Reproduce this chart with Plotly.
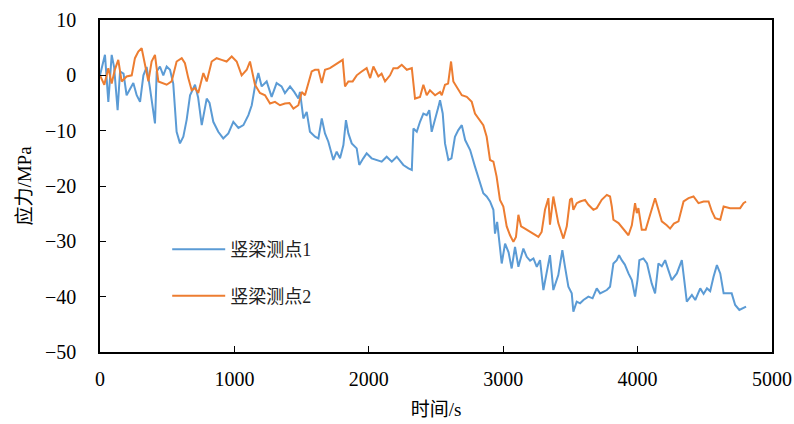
import plotly.graph_objects as go

# ---- data ----
time1 = [0, 37, 62, 87, 105, 131, 149, 175, 198, 225, 248, 273, 298, 323, 347, 370, 390, 409, 422, 446,
         471, 496, 521, 545, 570, 595, 620, 645, 670, 707, 730, 757, 794, 815, 843, 880, 917, 955, 992, 1030,
         1067, 1104, 1129, 1153, 1178, 1203, 1240, 1277, 1314, 1351, 1376, 1414, 1445, 1476, 1488, 1513, 1538, 1562, 1600, 1625,
         1650, 1674, 1699, 1736, 1761, 1786, 1811, 1830, 1848, 1873, 1910, 1929, 1959, 1984, 2021, 2059, 2096, 2133, 2171, 2208,
         2235, 2257, 2295, 2320, 2332, 2357, 2381, 2406, 2431, 2450, 2468, 2493, 2518, 2530, 2550, 2567, 2592, 2615, 2641, 2666,
         2692, 2717, 2754, 2790, 2827, 2852, 2877, 2902, 2927, 2939, 2955, 2976, 2989, 3014, 3040, 3063, 3088, 3113, 3150, 3175,
         3200, 3225, 3250, 3274, 3299, 3348, 3373, 3410, 3440, 3460, 3485, 3510, 3522, 3547, 3572, 3597, 3634, 3665, 3696, 3721,
         3771, 3795, 3820, 3845, 3862, 3882, 3905, 3932, 3957, 3981, 3999, 4013, 4043, 4070, 4105, 4130, 4155, 4180, 4205, 4229,
         4254, 4292, 4329, 4347, 4366, 4404, 4429, 4466, 4491, 4516, 4540, 4565, 4590, 4615, 4640, 4700, 4726, 4757, 4788, 4807]
stress1 = [0, 3.7, -4.8, 3.7, 1.5, -6.3, 0.7, 0.3, -3.6, -2.5, -1.4, -3.6, -4.8, 0, 1.5, -2, -6, -8.7, 0.7, 1.6,
           0, 1.6, 1, -1.5, -10.2, -12.3, -11.1, -8, -3.6, -1.7, -4, -9, -4.2, -5, -8.4, -10.2, -11.4, -10.5, -8.4, -9.5,
           -9, -7.2, -5.4, -2, 0.4, -2, -1.1, -3.9, -1.4, -2, -3.2, -2, -3, -4.2, -3, -7.8, -6.6, -10.2, -11.1, -11.4,
           -7.8, -10.5, -12, -15.3, -13.8, -15, -12.6, -8.1, -10.5, -12.3, -13.2, -16.2, -15, -14.1, -15, -15.3, -15.6, -14.7, -15.6, -14.7,
           -15.6, -16.2, -16.8, -17.1, -9.6, -10.2, -8.4, -6.9, -7.2, -6.3, -10.2, -8.1, -5.7, -4.5, -6.9, -12.3, -15.3, -15, -11.1, -9.9,
           -9, -11.7, -13.5, -16.5, -19.5, -21.3, -21.9, -22.8, -24.3, -28.6, -26.5, -31, -34, -30.4, -32, -34.9, -31, -34.6, -31.3, -32.8,
           -33.5, -33.1, -34.6, -33.4, -38.8, -32.5, -38.8, -36.1, -31.6, -34.6, -38.2, -39.4, -42.7, -40.9, -41.2, -40.6, -40, -40.3, -38.5, -39.4,
           -38.8, -38.2, -34, -33.4, -32.5, -33.4, -34.2, -35.8, -37, -40, -37, -33.4, -33.1, -34, -37.6, -39.4, -34, -34.5, -33.4, -35.2,
           -37, -35.8, -33.4, -37, -40.9, -39.7, -40.6, -38.5, -39.5, -38.5, -39, -36.4, -34.3, -35.8, -39.4, -39.4, -41.5, -42.4, -42.1, -41.8]

time2 = [0, 32, 62, 87, 110, 136, 161, 198, 236, 260, 285, 310, 335, 360, 384, 409, 434, 459, 496, 533,
         570, 608, 632, 657, 682, 707, 731, 769, 794, 831, 868, 905, 942, 980, 1017, 1054, 1092, 1116, 1153, 1190,
         1228, 1265, 1302, 1339, 1376, 1410, 1439, 1476, 1501, 1525, 1550, 1575, 1600, 1625, 1650, 1674, 1711, 1749, 1773, 1806,
         1823, 1848, 1880, 1910, 1947, 1984, 2010, 2034, 2071, 2095, 2121, 2158, 2183, 2215, 2245, 2283, 2320, 2344, 2381, 2406,
         2431, 2455, 2493, 2530, 2543, 2567, 2590, 2612, 2629, 2654, 2692, 2729, 2766, 2790, 2827, 2852, 2877, 2902, 2927, 2951,
         2976, 3001, 3026, 3051, 3076, 3095, 3113, 3133, 3162, 3199, 3237, 3262, 3286, 3311, 3336, 3348, 3373, 3410, 3448, 3473,
         3497, 3510, 3522, 3547, 3572, 3609, 3634, 3671, 3696, 3733, 3771, 3795, 3808, 3820, 3858, 3895, 3932, 3957, 3981, 3994,
         4006, 4031, 4060, 4093, 4130, 4155, 4180, 4217, 4242, 4270, 4304, 4342, 4379, 4416, 4453, 4491, 4528, 4553, 4577, 4615,
         4640, 4688, 4726, 4763, 4788, 4807]
stress2 = [0, -1.7, 1.3, -1.5, 1, 2.8, -1.1, -0.2, 0, 3.1, 4.3, 4.9, 1.9, -1.1, 2.5, 3.7, -1.1, -1.4, -1.7, -1.1,
           2.5, 3.1, 2.2, -0.5, -2.7, -2.3, -3.2, 0.4, -1.1, 2.5, 3.1, 2.8, 2.5, 3.4, 2.5, 0, 1, 2.5, -1.7, -3.2,
           -3.6, -5.1, -4.8, -5.4, -5.1, -5, -6, -5.4, -3, -3.6, -1.4, 0.7, 1, 1, -1.4, 1, 1.3, 1.9, 2.2, 2.8,
           -2, -1.1, -1.1, 0, 0.7, 1.3, -0.5, 1.6, -0.2, 0.3, -1.1, 0, 1.3, 1.3, 1.9, 1, 1.3, -4.2, -3.9, -1.7,
           -3.6, -2.7, -3.6, -3, -3.6, -1.7, -1.5, 2.5, -1.1, -2, -3.6, -3.9, -4.8, -6.9, -8.1, -9, -11.1, -15.3, -15.6, -18.3,
           -22.5, -23.7, -27.3, -28.9, -30.1, -29.2, -25.2, -27.3, -27.7, -28.3, -28.9, -29.2, -28.3, -24.3, -22.2, -27, -21.9, -26.7, -29.5, -27.3,
           -22.5, -22.2, -24.3, -23.1, -22.8, -22.5, -23.4, -24.3, -24, -22.5, -21.6, -21.9, -23.7, -26.1, -26.7, -27.9, -28.9, -27.1, -23.1, -24.9,
           -24, -27.9, -27.9, -25.2, -22.2, -24.3, -26.4, -27.1, -27.7, -26.8, -26.4, -22.8, -22.2, -21.9, -23.1, -22.8, -22.8, -24.6, -25.8, -26.1,
           -23.7, -24, -24, -24, -23.1, -22.8]

series_names = ["竖梁测点1", "竖梁测点2"]
x_ticks = [0, 1000, 2000, 3000, 4000, 5000]
y_ticks = [10, 0, -10, -20, -30, -40, -50]

NUM_FONT = "Liberation Serif, DejaVu Serif, serif"
FONT = "Liberation Serif, Noto Sans CJK SC, DejaVu Serif, serif"

fig = go.Figure()
fig.add_trace(go.Scatter(x=time1, y=stress1, mode="lines", name=series_names[0],
                         legendgroup="a",
                         line=dict(color="#5B9BD5", width=2)))
fig.add_trace(go.Scatter(x=time2, y=stress2, mode="lines", name=series_names[1],
                         legendgroup="b",
                         line=dict(color="#ED7D31", width=2)))

axis_common = dict(showline=True, linecolor="black", linewidth=1.5, mirror=True,
                   ticks="inside", ticklen=6, tickwidth=1.2, tickcolor="black",
                   showgrid=False, zeroline=False, automargin=False,
                   tickfont=dict(family=NUM_FONT, size=20, color="black"))

fig.update_xaxes(range=[0, 5000], tickvals=x_ticks, ticklabelstandoff=8,
                 title=dict(text="时间/s", font=dict(family=FONT, size=19, color="black"), standoff=14),
                 **axis_common)
fig.update_yaxes(range=[-50, 10], tickvals=y_ticks, ticklabelstandoff=18,
                 title=dict(text="应力/MPa", font=dict(family=FONT, size=19, color="black"), standoff=8),
                 **axis_common)

fig.update_layout(
    width=794, height=424,
    margin=dict(l=100, r=22, t=20, b=72, autoexpand=False),
    plot_bgcolor="white", paper_bgcolor="white",
    showlegend=True,
    legend=dict(x=0.10, y=0.364, xanchor="left", yanchor="top",
                bgcolor="rgba(0,0,0,0)", tracegroupgap=20, itemwidth=53,
                font=dict(family=FONT, size=18, color="#222")),
)

fig.write_html("out.html")
